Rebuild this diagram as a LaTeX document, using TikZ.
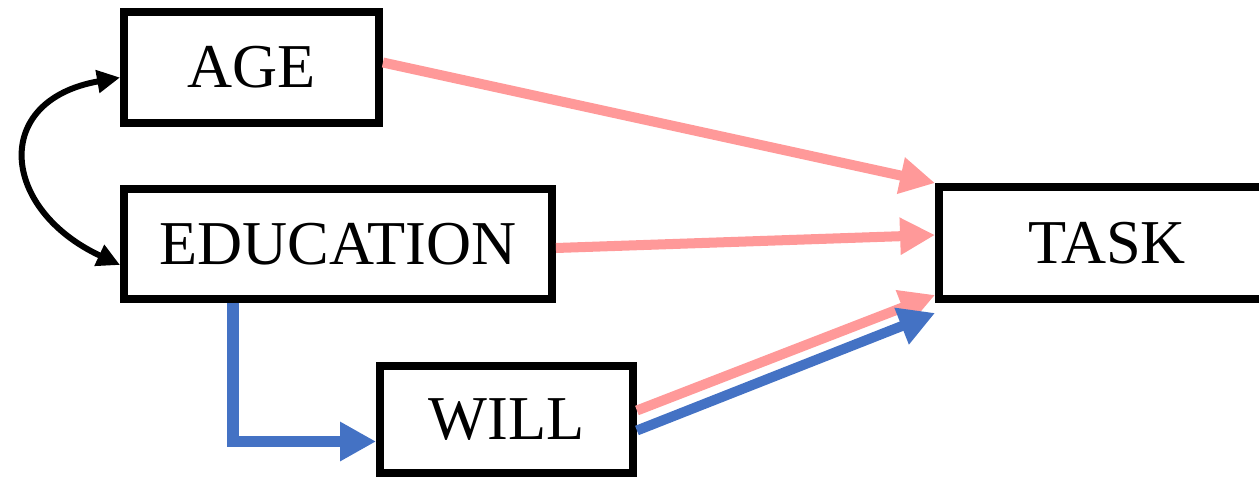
\documentclass[tikz,border=0pt]{standalone}
\usepackage{fontspec}
\setmainfont{Liberation Serif}
\usepackage{tikz}
\usetikzlibrary{arrows.meta,positioning,calc}
\usepackage{xcolor}
\definecolor{effpink}{RGB}{255,153,153}
\definecolor{effblue}{RGB}{68,114,196}

\begin{document}
\begin{tikzpicture}[
  x=0.02cm, y=-0.02cm,
  var/.style={draw, line width=4.5pt, inner sep=0pt, font=\fontsize{35.5}{42}\selectfont},
  pinkarrow/.style={draw=effpink, line width=5.7pt, -{Triangle[length=0.7cm,width=0.7cm]}},
  bluearrow/.style={draw=effblue, line width=5.7pt, -{Triangle[length=0.72cm,width=0.74cm]}},
  corr/.style={draw=black, line width=3.4pt, {Triangle[length=0.46cm,width=0.44cm]}-{Triangle[length=0.46cm,width=0.44cm]}}
]
\useasboundingbox (0,0) rectangle (1259,478);

\node[var, minimum width=5.1cm, minimum height=2.22cm] (age) at (251.5,67.5) {AGE};
\node[var, minimum width=8.56cm, minimum height=2.2cm] (education) at (338,244) {EDUCATION};
\node[var, minimum width=5.06cm, minimum height=2.14cm] (will) at (506.5,419.5) {WILL};
\node[var, minimum width=6.72cm, minimum height=2.24cm] (task) at (1107,243) {TASK};

% covariance between age and education
\draw[corr] ([yshift=-0.2cm]age.west) to[out=190, in=155, looseness=1.8] ([yshift=-0.42cm]education.west);

% direct effects
\draw[pinkarrow] ([yshift=0.1cm]age.east) -- (task.north west);
\draw[pinkarrow] ([yshift=-0.08cm]education.east) -- ([yshift=0.16cm]task.west);
\draw[pinkarrow] ([yshift=0.18cm]will.east) -- ([yshift=0.16cm]task.south west);

% mediated path
\draw[bluearrow, line width=6.4pt] ([xshift=-2.1cm]education.south) |- ([yshift=-0.44cm]will.west);
\draw[bluearrow] ([yshift=-0.22cm]will.east) -- ([yshift=-0.2cm]task.south west);
\end{tikzpicture}
\end{document}
